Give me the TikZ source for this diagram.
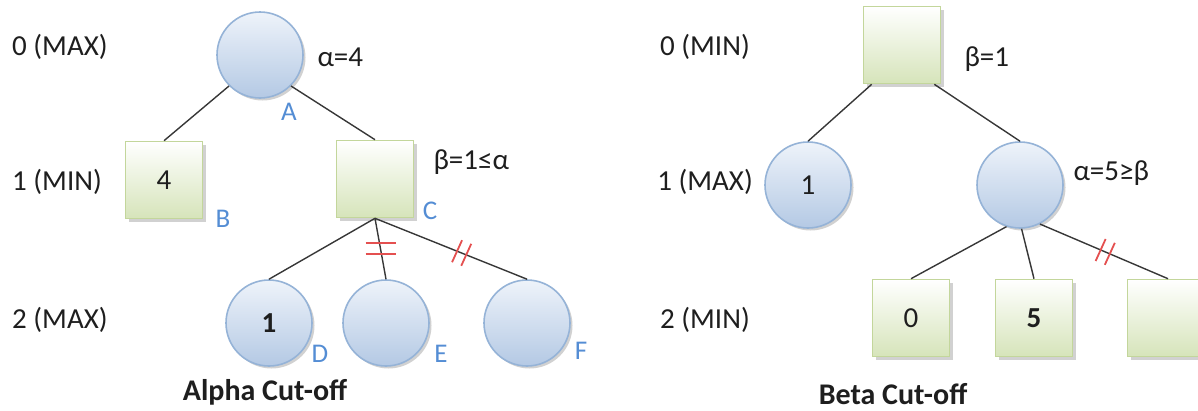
\documentclass[tikz,border=0pt]{standalone}
\usepackage{fontspec}
\setmainfont{Carlito}
\usetikzlibrary{shadows}
\definecolor{txt}{RGB}{30,30,30}
\definecolor{lblblue}{RGB}{84,141,212}
\definecolor{cirtop}{RGB}{238,243,250}
\definecolor{cirbot}{RGB}{180,201,228}
\definecolor{cirline}{RGB}{149,179,215}
\definecolor{sqbot}{RGB}{214,228,186}
\definecolor{sqline}{RGB}{195,214,155}
\definecolor{cutred}{RGB}{228,80,80}
\definecolor{edgec}{RGB}{55,55,55}
\tikzset{
  every node/.style={font=\fontsize{29}{34}\selectfont, text=txt},
  maxnode/.style={circle, minimum size=86pt, inner sep=0pt, draw=cirline, line width=1.6pt,
    top color=cirtop, bottom color=cirbot,
    drop shadow={shadow xshift=2.5pt, shadow yshift=-2.5pt, opacity=0.3, fill=black!60}},
  minnode/.style={rectangle, minimum width=77pt, minimum height=77pt, inner sep=0pt, draw=sqline, line width=1.6pt,
    top color=white, bottom color=sqbot,
    drop shadow={shadow xshift=3pt, shadow yshift=-3pt, opacity=0.3, fill=black!60}},
  letter/.style={text=lblblue, font=\fontsize{27}{32}\selectfont},
  levellbl/.style={anchor=west, inner sep=0pt},
  levellblr/.style={anchor=east, inner sep=0pt},
  annot/.style={anchor=west},
  edge/.style={draw=edgec, line width=1.4pt},
  cut/.style={draw=cutred, line width=1.8pt},
  caption/.style={font=\fontsize{30}{34}\selectfont\bfseries}
}
\begin{document}
\begin{tikzpicture}[x=1pt,y=-1pt]
\useasboundingbox (0,0) rectangle (1198,410);
\clip (0,0) rectangle (1198,410);

% ---------- Alpha cut-off tree ----------
\node[levellbl] (l0a) at (12,47) {0 (MAX)};
\node[levellbl] (l1a) at (12,182) {1 (MIN)};
\node[levellbl] (l2a) at (12,320) {2 (MAX)};

\node[maxnode] (A) at (260,55) {};
\node[minnode] (B) at (164,180) {4};
\node[minnode] (C) at (375,179) {};
\node[maxnode] (D) at (269,323) {\bfseries 1};
\node[maxnode] (E) at (386,323) {};
\node[maxnode] (F) at (527,323) {};

\node[annot] (aA) at (314,57) {α=4};
\node[annot] (bC) at (430,162) {β=1≤α};

\node[letter] (LA) at (289,112) {A};
\node[letter] (LB) at (223,219) {B};
\node[letter] (LC) at (430,211) {C};
\node[letter] (LD) at (320,354) {D};
\node[letter] (LE) at (441,354) {E};
\node[letter] (LF) at (581,351) {F};

\draw[edge] (A.-135) -- (B.north);
\draw[edge] (A.-45) -- (C.north);
\draw[edge] (C.south) -- (D.north);
\draw[edge] (C.south) -- coordinate[pos=0.5] (ce) (E.north);
\draw[edge] (C.south) -- coordinate[pos=0.57] (cf) (F.north);

\draw[cut] ([shift={(-15,-5.5)}]ce) -- ++(30,0);
\draw[cut] ([shift={(-15,5.5)}]ce) -- ++(30,0);
\draw[cut] ([shift={(-4.6,-1.8)}]cf) ++(-5,11) -- ++(10,-22);
\draw[cut] ([shift={(4.6,1.8)}]cf) ++(-5,11) -- ++(10,-22);

\node[caption] (capA) at (265,392) {Alpha Cut-off};

% ---------- Beta cut-off tree ----------
\node[levellblr] (l0b) at (750,47) {0 (MIN)};
\node[levellblr] (l1b) at (753,182) {1 (MAX)};
\node[levellblr] (l2b) at (750,320) {2 (MIN)};

\node[minnode] (R) at (902,45) {};
\node[maxnode] (P) at (808,185) {1};
\node[maxnode] (M) at (1020,185) {};
\node[minnode] (Q0) at (911,318) {0};
\node[minnode] (Q5) at (1034,318) {\bfseries 5};
\node[minnode] (Q6) at (1166,318) {};

\node[annot] (bR) at (961,59) {β=1};
\node[annot] (aM) at (1070,173) {α=5≥β};

\draw[edge] ([xshift=9pt]R.south west) -- (P.north);
\draw[edge] ([xshift=-7pt]R.south east) -- (M.north);
\draw[edge] (M.-108) -- (Q0.north);
\draw[edge] (M.-88) -- (Q5.north);
\draw[edge] (M.-63) -- coordinate[pos=0.51] (mq) ([xshift=2pt]Q6.north);

\draw[cut] ([shift={(-4.6,-1.9)}]mq) ++(-5,11) -- ++(10,-22);
\draw[cut] ([shift={(4.6,1.9)}]mq) ++(-5,11) -- ++(10,-22);

\node[caption] (capB) at (893,394) {Beta Cut-off};
\end{tikzpicture}
\end{document}
